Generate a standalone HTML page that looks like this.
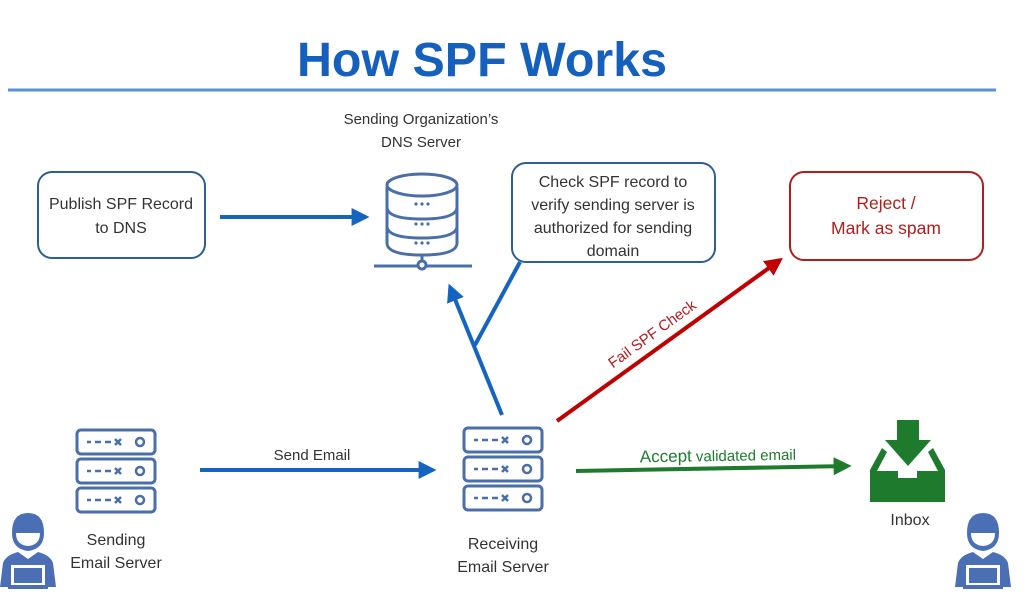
<!DOCTYPE html>
<html><head><meta charset="utf-8"><style>
body{margin:0;background:#fff;}
svg{display:block;font-family:"Liberation Sans",sans-serif;}
</style></head><body>
<svg width="1024" height="600" viewBox="0 0 1024 600" xmlns="http://www.w3.org/2000/svg">
<defs>
<marker id="ab" viewBox="0 0 10 10" refX="8" refY="5" markerWidth="4.5" markerHeight="4.5" orient="auto"><path d="M0,0L10,5L0,10z" fill="#1565c0"/></marker>
<marker id="ar" viewBox="0 0 10 10" refX="8" refY="5" markerWidth="4.5" markerHeight="4.5" orient="auto"><path d="M0,0L10,5L0,10z" fill="#c00000"/></marker>
<marker id="ag" viewBox="0 0 10 10" refX="8" refY="5" markerWidth="4.5" markerHeight="4.5" orient="auto"><path d="M0,0L10,5L0,10z" fill="#1e7b2e"/></marker>
<g id="srv" fill="#fff" stroke="#4a6fa8" stroke-width="3">
<rect x="2" y="2" width="78" height="24" rx="4"/>
<rect x="2" y="31" width="78" height="24" rx="4"/>
<rect x="2" y="60" width="78" height="24" rx="4"/>
<g stroke-width="2.5"><path d="M12 14h4M20 14h6M30 14h6M40 11l6 6M46 11l-6 6"/><circle cx="65" cy="14" r="4"/>
<path d="M12 43h4M20 43h6M30 43h6M40 40l6 6M46 40l-6 6"/><circle cx="65" cy="43" r="4"/>
<path d="M12 72h4M20 72h6M30 72h6M40 69l6 6M46 69l-6 6"/><circle cx="65" cy="72" r="4"/></g>
</g>
<g id="person" fill="#4a6fb5">
<path d="M12 20 Q12 0 28 0 Q44 0 44 20 Q44 36 28 38 Q12 36 12 20z"/>
<path d="M16 20 Q16 32 28 33 Q40 32 40 20z" fill="#fff"/>
<path d="M0 74 L3 50 Q6 42 18 39 L28 46 L38 39 Q50 42 53 50 L56 74z"/>
<rect x="11" y="52" width="34" height="20" fill="#fff"/>
<rect x="14" y="55" width="28" height="15"/>
<rect x="8" y="72" width="40" height="4"/>
</g>
</defs>

<text x="482" y="76" text-anchor="middle" font-size="48" font-weight="bold" fill="#1560bd" textLength="370" lengthAdjust="spacingAndGlyphs">How SPF Works</text>
<line x1="8" y1="90" x2="996" y2="90" stroke="#5b8fd6" stroke-width="3"/>

<text x="421" y="124" text-anchor="middle" font-size="15" fill="#333">Sending Organization’s</text>
<text x="421" y="147" text-anchor="middle" font-size="15" fill="#333">DNS Server</text>

<rect x="38" y="172" width="167" height="86" rx="14" fill="#fff" stroke="#2f5f8f" stroke-width="2"/>
<text x="121" y="209" text-anchor="middle" font-size="16" fill="#333">Publish SPF Record</text>
<text x="121" y="233" text-anchor="middle" font-size="16" fill="#333">to DNS</text>

<rect x="512" y="163" width="203" height="99" rx="14" fill="#fff" stroke="#2f5f8f" stroke-width="2"/>
<text x="613" y="187" text-anchor="middle" font-size="16" fill="#333">Check SPF record to</text>
<text x="613" y="210" text-anchor="middle" font-size="16" fill="#333">verify sending server is</text>
<text x="613" y="233" text-anchor="middle" font-size="16" fill="#333">authorized for sending</text>
<text x="613" y="256" text-anchor="middle" font-size="16" fill="#333">domain</text>

<rect x="790" y="172" width="193" height="88" rx="14" fill="#fff" stroke="#b01e1e" stroke-width="2"/>
<text x="886" y="209" text-anchor="middle" font-size="17.5" fill="#b01e1e">Reject /</text>
<text x="886" y="234" text-anchor="middle" font-size="17.5" fill="#b01e1e">Mark as spam</text>

<line x1="220" y1="217" x2="366" y2="217" stroke="#1565c0" stroke-width="4" marker-end="url(#ab)"/>

<g fill="#fff" stroke="#4a6fa8" stroke-width="3">
<path d="M387 187 v56 q0 12 35 12 q35 0 35 -12 v-56"/>
<path d="M387 207 q0 12 35 12 q35 0 35 -12"/>
<path d="M387 226 q0 12 35 12 q35 0 35 -12"/>
<ellipse cx="422" cy="185" rx="35" ry="11"/>
<line x1="374" y1="266" x2="472" y2="266"/><line x1="422" y1="255" x2="422" y2="261"/>
<circle cx="422" cy="265" r="4"/>
</g>
<g fill="#4a6fa8"><circle cx="416" cy="204" r="1.6"/><circle cx="422" cy="204" r="1.6"/><circle cx="428" cy="204" r="1.6"/>
<circle cx="416" cy="224" r="1.6"/><circle cx="422" cy="224" r="1.6"/><circle cx="428" cy="224" r="1.6"/>
<circle cx="416" cy="243" r="1.6"/><circle cx="422" cy="243" r="1.6"/><circle cx="428" cy="243" r="1.6"/></g>

<line x1="502" y1="415" x2="450" y2="287" stroke="#1565c0" stroke-width="4" marker-end="url(#ab)"/>
<line x1="475" y1="345" x2="520" y2="262" stroke="#1565c0" stroke-width="4"/>

<line x1="557" y1="421" x2="780" y2="260" stroke="#c00000" stroke-width="4" marker-end="url(#ar)"/>
<text transform="translate(655,338) rotate(-36)" text-anchor="middle" font-size="15" fill="#b01e1e">Fail SPF Check</text>

<use href="#srv" x="75" y="428"/>
<use href="#srv" x="462" y="426"/>
<text x="116" y="545" text-anchor="middle" font-size="16" fill="#333">Sending</text>
<text x="116" y="568" text-anchor="middle" font-size="16" fill="#333">Email Server</text>
<text x="503" y="549" text-anchor="middle" font-size="16" fill="#333">Receiving</text>
<text x="503" y="572" text-anchor="middle" font-size="16" fill="#333">Email Server</text>

<line x1="200" y1="470" x2="433" y2="470" stroke="#1565c0" stroke-width="4" marker-end="url(#ab)"/>
<text x="312" y="460" text-anchor="middle" font-size="15" fill="#333">Send Email</text>

<line x1="576" y1="471" x2="848" y2="466" stroke="#1e7b2e" stroke-width="4" marker-end="url(#ag)"/>
<text x="718" y="461" text-anchor="middle" font-size="15" fill="#1e7b2e" transform="rotate(-1 718 461)"><tspan font-size="17">Accept</tspan> validated email</text>

<g fill="#1e7b2e">
<rect x="897" y="420" width="22" height="22"/>
<path d="M885 440 h46 l-23 26z"/>
<path d="M882 448 L870 470 V502 H945 V470 L933 448 L928 452 L938 471 H917 V478 H898 V471 H877 L887 452z"/>
</g>
<text x="910" y="525" text-anchor="middle" font-size="16" fill="#333">Inbox</text>

<use href="#person" x="0" y="513"/>
<use href="#person" x="955" y="513"/>
</svg>
</body></html>
